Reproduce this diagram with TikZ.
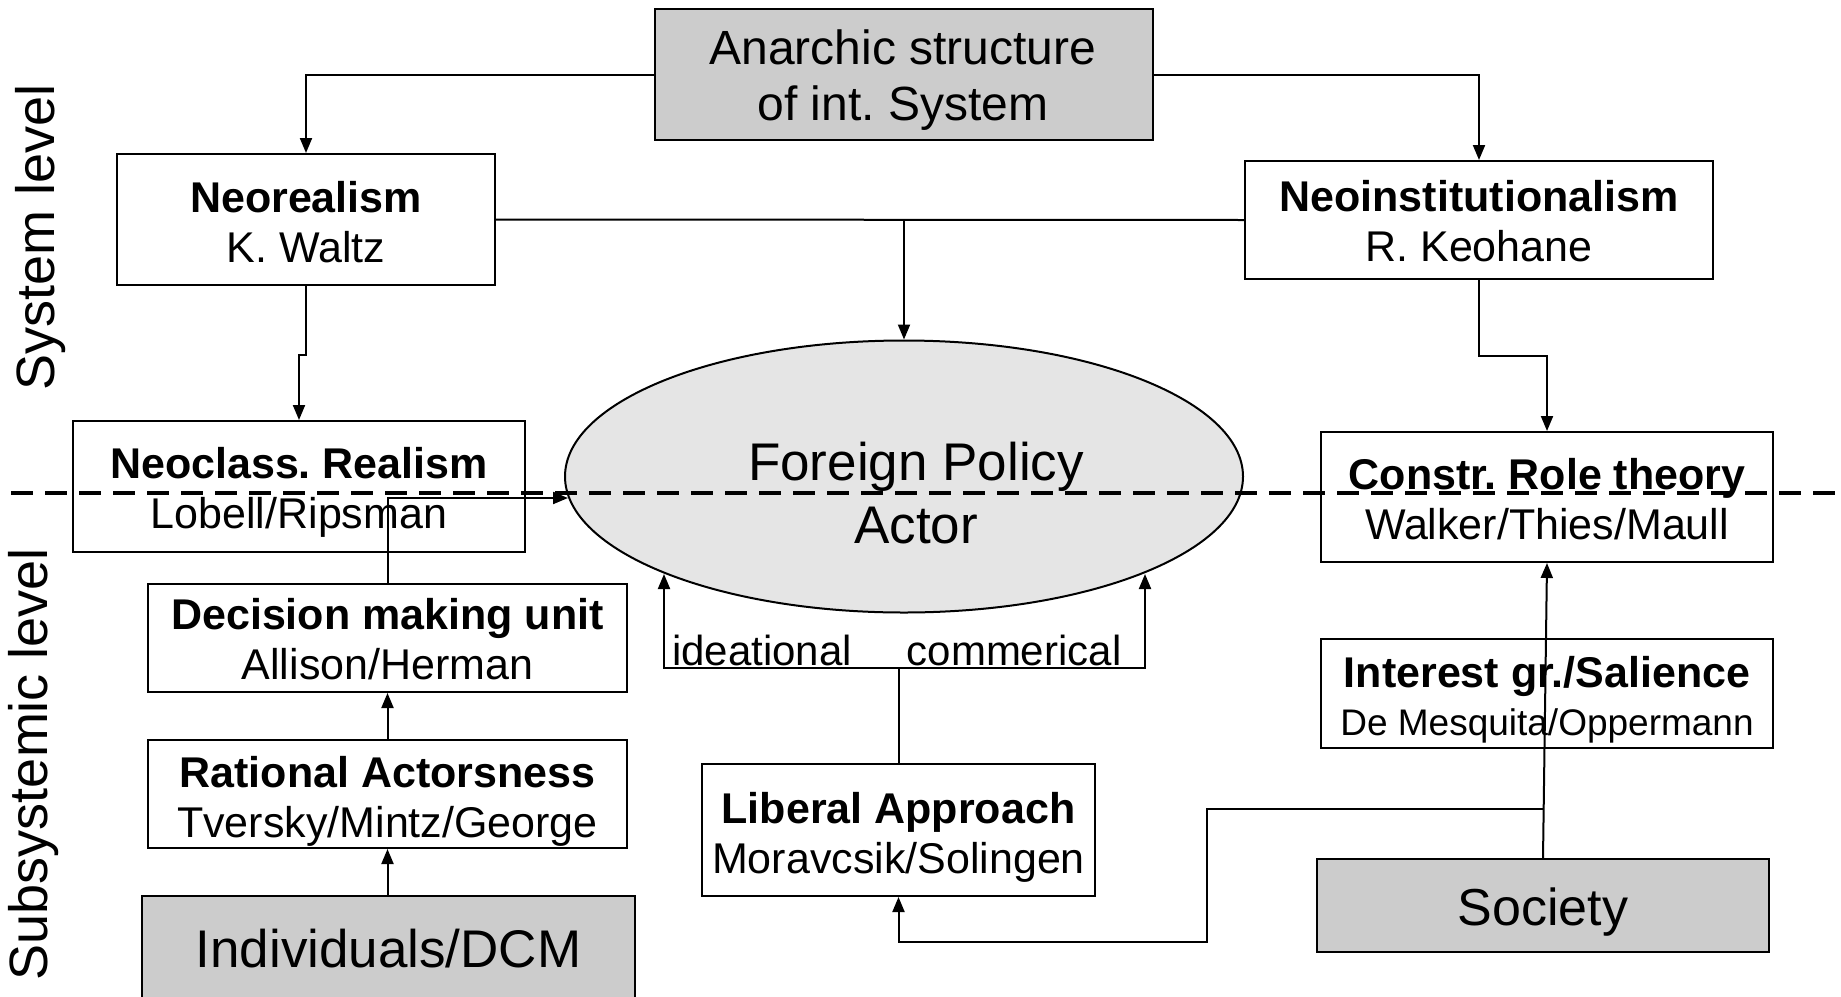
\documentclass[tikz,border=0pt]{standalone}
\usepackage{fontspec}
\setmainfont{Liberation Sans}
\usetikzlibrary{arrows.meta,shapes.geometric,calc}
\frenchspacing
\begin{document}
\begin{tikzpicture}[x=1pt,y=-1pt,
  box/.style={draw,line width=2pt,rectangle,inner sep=0pt},
  graybox/.style={box,fill=black!20},
  txt/.style={inner sep=0pt,align=center,font=\fontsize{43}{50}\selectfont},
  bigtxt/.style={inner sep=0pt,align=center,font=\fontsize{53}{58}\selectfont},
  conn/.style={line width=2pt},
  arr/.style={conn,-{Triangle[length=15pt,width=12pt]}},
  lab/.style={font=\fontsize{42}{50}\selectfont,inner sep=0pt},
  side/.style={rotate=90,inner sep=0pt,font=\fontsize{54}{60}\selectfont},
  divider/.style={line width=3.5pt,dash pattern=on 22pt off 12pt}]
\useasboundingbox (0,0) rectangle (1841,996);

% boxes
\node[graybox,minimum width=498pt,minimum height=131pt] (anarchic) at (904,74.5) {};
\node[box,minimum width=378pt,minimum height=131pt] (neoreal) at (306,219.5) {};
\node[box,minimum width=468pt,minimum height=118pt] (neoinst) at (1479,220) {};
\node[box,minimum width=452pt,minimum height=131pt] (neoclass) at (299,486.5) {};
\node[ellipse,draw,line width=2pt,fill=black!10,minimum width=678pt,minimum height=272pt,inner sep=0pt] (fpa) at (904,476.5) {};
\node[box,minimum width=452pt,minimum height=130pt] (constr) at (1547,497) {};
\node[box,minimum width=479pt,minimum height=108pt] (dmu) at (387.5,638) {};
\node[box,minimum width=479pt,minimum height=108pt] (rat) at (387.5,794) {};
\node[graybox,minimum width=493pt,minimum height=120pt] (indiv) at (388.5,956) {};
\node[box,minimum width=393pt,minimum height=132pt] (liberal) at (898.5,830) {};
\node[box,minimum width=452pt,minimum height=109pt] (interest) at (1547,693.5) {};
\node[graybox,minimum width=452pt,minimum height=93pt] (society) at (1543,905.5) {};

% texts
\node[txt,font=\fontsize{48}{56}\selectfont] (anarchict) at (903,80.5) {Anarchic structure\\of int. System};
\node[txt] (neorealt) at (306,222) {\textbf{Neorealism}\\K. Waltz};
\node[txt] (neoinstt) at (1479,221) {\textbf{Neoinstitutionalism}\\R. Keohane};
\node[txt] (neoclasst) at (299,492.5) {\textbf{Neoclass. Realism}\\Lobell/Ripsman};
\node[inner sep=0pt,align=center,font=\fontsize{53}{63}\selectfont] (fpat) at (916,493) {Foreign Policy\\Actor};
\node[txt] (constrt) at (1547,499.5) {\textbf{Constr. Role theory}\\Walker/Thies/Maull};
\node[txt] (dmut) at (387.5,639) {\textbf{Decision making unit}\\Allison/Herman};
\node[txt] (ratt) at (387.5,801) {\textbf{Rational Actorsness}\\Tversky/Mintz/George};
\node[bigtxt] (indivt) at (388.5,949) {Individuals/DCM};
\node[txt] (liberalt) at (898.5,837) {\textbf{Liberal Approach}\\Moravcsik/Solingen};
\node[txt] (interestt) at (1547,700) {\textbf{Interest gr./Salience}\\[-2pt]{\fontsize{37}{44}\selectfont De Mesquita/Oppermann}};
\node[bigtxt,font=\fontsize{52}{58}\selectfont] (societyt) at (1543,912.5) {Society};

% side labels
\node[side] (syslevel) at (41,237) {System level};
\node[side] (subsyslevel) at (34,764) {Subsystemic level};

% helper coordinates
\coordinate (dmuin) at (568,498);
\coordinate (ideaT) at (664,574);
\coordinate (commT) at (1145,574);
\coordinate (libJ) at (898.5,668);
\coordinate (socJ) at ($(society.north)!0.165!(constr.south)$);
\coordinate (bend) at (1207,942);
\coordinate (dashL) at (11,493);
\coordinate (dashR) at (1841,493);

% connectors
\draw[arr] (anarchic.west) -| (neoreal.north);
\draw[arr] (anarchic.east) -| (neoinst.north);
\draw[conn] (neoreal.east) -- (neoinst.west);
\draw[arr] (fpa.north |- neoreal.east) -- (fpa.north);
\draw[arr] (neoreal.south) -- ++(0,69) -| (neoclass.north);
\draw[arr] (neoinst.south) -- ++(0,76) -| (constr.north);
\draw[arr] (dmu.north) |- (dmuin);
\draw[arr] (rat.north) -- (dmu.south);
\draw[arr] (rat.south |- indiv.north) -- (rat.south);
\draw[conn] (liberal.north) -- (libJ);
\draw[arr] (libJ) -| (ideaT);
\draw[arr] (libJ) -| (commT);
\draw[arr] (society.north) -- (constr.south);
\draw[arr] (socJ) -| (bend) -| (liberal.south);

% labels on the liberal fork
\node[lab,anchor=base] (idea) at (762,665) {ideational};
\node[lab,anchor=base] (comm) at (1014,665) {commerical};

% level divider
\draw[divider] (dashL) -- (dashR);
\end{tikzpicture}
\end{document}
